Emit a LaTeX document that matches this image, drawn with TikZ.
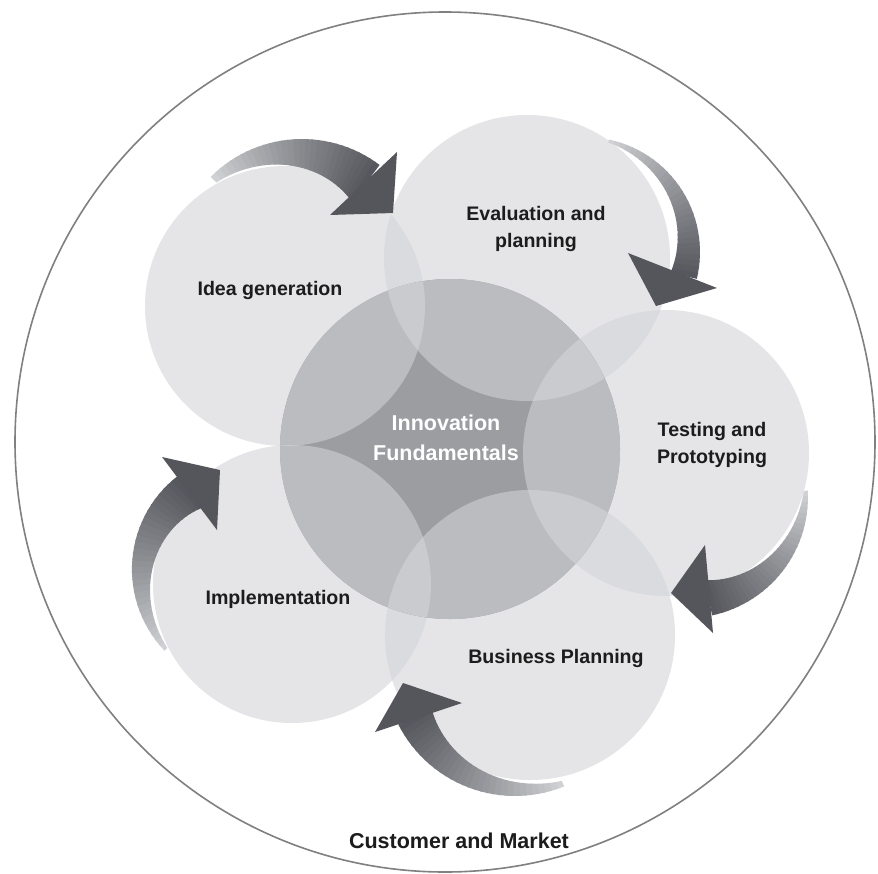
\documentclass[tikz,border=0pt]{standalone}
\usepackage{fontspec}
\setmainfont{Liberation Sans}
\definecolor{petal}{HTML}{E5E5E7}
\definecolor{ovl}{HTML}{DADBDE}
\definecolor{lobe}{HTML}{BBBCC0}
\definecolor{lobeovl}{HTML}{CACBCE}
\definecolor{star}{HTML}{9C9DA1}
\definecolor{arrowlight}{HTML}{D4D5D8}
\definecolor{arrowdark}{HTML}{55565C}
\definecolor{ringcol}{HTML}{808080}
\definecolor{labelcol}{HTML}{1C1C1C}
% tapered arc body with gradient: cx, cy, a0, a1, ro0, ro1, ri0, ri1
\newcommand{\arcbody}[8]{%
  \foreach \k in {0,...,29}{%
    \pgfmathsetmacro{\ta}{#3+(#4-#3)*\k/30}%
    \pgfmathsetmacro{\tb}{#3+(#4-#3)*min(\k+1.2,30)/30}%
    \pgfmathsetmacro{\roa}{#5+(#6-#5)*\k/30}%
    \pgfmathsetmacro{\rob}{#5+(#6-#5)*min(\k+1.2,30)/30}%
    \pgfmathsetmacro{\ria}{#7+(#8-#7)*\k/30}%
    \pgfmathsetmacro{\rib}{#7+(#8-#7)*min(\k+1.2,30)/30}%
    \pgfmathtruncatemacro{\pc}{100*((\k+0.5)/30)^0.85}%
    \fill[arrowdark!\pc!arrowlight]
      ({#1+\roa*cos(\ta)},{#2+\roa*sin(\ta)}) --
      ({#1+\rob*cos(\tb)},{#2+\rob*sin(\tb)}) --
      ({#1+\rib*cos(\tb)},{#2+\rib*sin(\tb)}) --
      ({#1+\ria*cos(\ta)},{#2+\ria*sin(\ta)}) -- cycle;
  }}
\begin{document}
\begin{tikzpicture}[x=1pt,y=-1pt,
  lbl/.style={font=\bfseries\fontsize{19.6}{27.5}\selectfont, text=labelcol, align=center, inner sep=0pt},
  biglbl/.style={font=\bfseries\fontsize{21.5}{30}\selectfont, align=center, inner sep=0pt},
  ringline/.style={draw=ringcol, line width=1.6pt},
  headfill/.style={fill=arrowdark}]
\useasboundingbox (0,0) rectangle (878,873);
\fill[white] (0,0) rectangle (878,873);
% geometry
\coordinate (ring) at (445,442);
\coordinate (idea) at (285,306);  \def\rIdea{140pt}
\coordinate (eval) at (527,258);  \def\rEval{143pt}
\coordinate (test) at (666,453);  \def\rTest{143pt}
\coordinate (bus)  at (530,635);  \def\rBus{145pt}
\coordinate (impl) at (292,584);  \def\rImpl{139pt}
\coordinate (core) at (450,449);  \def\rCore{170pt}
% outer ring
\draw[ringline] (ring) circle[radius=430pt];
% petals
\fill[petal] (idea) circle[radius=\rIdea];
\fill[petal] (eval) circle[radius=\rEval];
\fill[petal] (test) circle[radius=\rTest];
\fill[petal] (bus) circle[radius=\rBus];
\fill[petal] (impl) circle[radius=\rImpl];
% petal overlaps
\begin{scope}\clip (idea) circle[radius=\rIdea]; \fill[ovl] (eval) circle[radius=\rEval];\end{scope}
\begin{scope}\clip (eval) circle[radius=\rEval]; \fill[ovl] (test) circle[radius=\rTest];\end{scope}
\begin{scope}\clip (test) circle[radius=\rTest]; \fill[ovl] (bus) circle[radius=\rBus];\end{scope}
\begin{scope}\clip (bus) circle[radius=\rBus]; \fill[ovl] (impl) circle[radius=\rImpl];\end{scope}
\begin{scope}\clip (impl) circle[radius=\rImpl]; \fill[ovl] (idea) circle[radius=\rIdea];\end{scope}
% core
\fill[star] (core) circle[radius=\rCore];
\begin{scope}
  \clip (core) circle[radius=\rCore];
  \fill[lobe] (idea) circle[radius=\rIdea];
  \fill[lobe] (eval) circle[radius=\rEval];
  \fill[lobe] (test) circle[radius=\rTest];
  \fill[lobe] (bus) circle[radius=\rBus];
  \fill[lobe] (impl) circle[radius=\rImpl];
  \begin{scope}\clip (idea) circle[radius=\rIdea]; \fill[lobeovl] (eval) circle[radius=\rEval];\end{scope}
  \begin{scope}\clip (eval) circle[radius=\rEval]; \fill[lobeovl] (test) circle[radius=\rTest];\end{scope}
  \begin{scope}\clip (test) circle[radius=\rTest]; \fill[lobeovl] (bus) circle[radius=\rBus];\end{scope}
  \begin{scope}\clip (bus) circle[radius=\rBus]; \fill[lobeovl] (impl) circle[radius=\rImpl];\end{scope}
  \begin{scope}\clip (impl) circle[radius=\rImpl]; \fill[lobeovl] (idea) circle[radius=\rIdea];\end{scope}
\end{scope}
% arrows
% 1: idea -> evaluation
\arcbody{302}{268}{-135}{-53}{129}{129}{121}{83}
\coordinate (h1a) at (397,152); \coordinate (h1b) at (330,215); \coordinate (h1t) at (393,213);
\fill[headfill] (h1a) -- (h1t) -- (h1b) -- cycle;
% 2: evaluation -> testing
\arcbody{585}{252}{-78}{13.5}{115}{115}{112}{88}
\coordinate (h2a) at (628,253); \coordinate (h2b) at (717,288); \coordinate (h2t) at (656,306);
\fill[headfill] (h2a) -- (h2b) -- (h2t) -- cycle;
% 3: testing -> business
\arcbody{687}{497}{-3}{78}{121}{121}{117}{85}
\coordinate (h3a) at (705,545); \coordinate (h3b) at (713,633); \coordinate (h3t) at (671,593);
\fill[headfill] (h3a) -- (h3b) -- (h3t) -- cycle;
% 4: business -> implementation
\arcbody{515}{665}{68}{153}{131}{131}{125}{94}
\coordinate (h4a) at (462,703); \coordinate (h4b) at (375,732); \coordinate (h4t) at (403,683);
\fill[headfill] (h4a) -- (h4b) -- (h4t) -- cycle;
% 5: implementation -> idea
\arcbody{250}{568}{136}{231.5}{119}{117}{115}{77}
\coordinate (h5a) at (162,457); \coordinate (h5b) at (217,530); \coordinate (h5t) at (220,470);
\fill[headfill] (h5a) -- (h5t) -- (h5b) -- cycle;
% labels
\node[lbl] (tIdea) at (270,290) {Idea generation};
\node[lbl] (tEval) at (536,229) {Evaluation and\\planning};
\node[lbl] (tTest) at (712,445) {Testing and\\Prototyping};
\node[lbl] (tBus)  at (556,658) {Business Planning};
\node[lbl] (tImpl) at (278,599) {Implementation};
\node[biglbl, text=white] (tCore) at (446,438) {Innovation\\Fundamentals};
\node[biglbl, text=labelcol] (tCust) at (459,841) {Customer and Market};
\end{tikzpicture}
\end{document}
